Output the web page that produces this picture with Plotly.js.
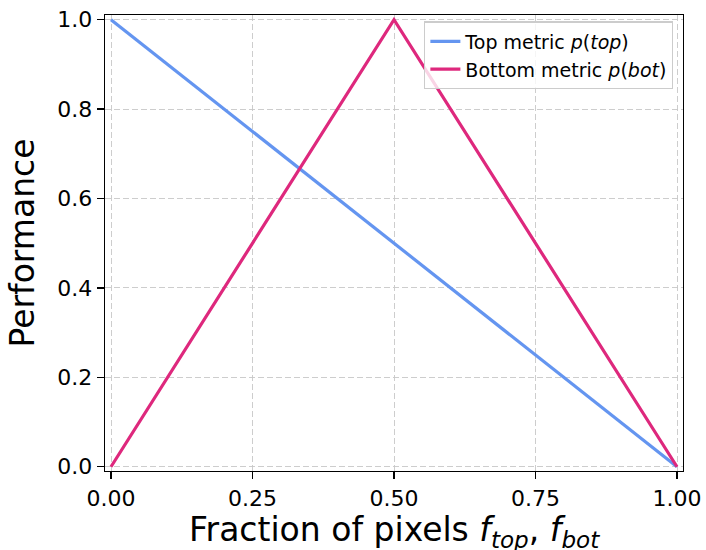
<!DOCTYPE html>
<html><head><meta charset="utf-8">
<script src="https://cdn.plot.ly/plotly-3.0.1.min.js"></script>
<style>html,body{margin:0;padding:0;background:#fff}#c{width:706px;height:550px}</style>
</head><body><div id="c"></div>
<script>
const topX = [0, 1];
const topY = [1, 0];
const botX = [0, 0.5, 1];
const botY = [0, 1, 0];
const xTicks = [0, 0.25, 0.5, 0.75, 1.0];
const xTickText = ['0.00', '0.25', '0.50', '0.75', '1.00'];
const yTicks = [0, 0.2, 0.4, 0.6, 0.8, 1.0];
const yTickText = ['0.0', '0.2', '0.4', '0.6', '0.8', '1.0'];
const xTitle = 'Fraction of pixels <i>f</i><sub><i>top</i></sub>, <i>f</i><sub><i>bot</i></sub>';
const yTitle = 'Performance';
const FONT = 'DejaVu Sans, sans-serif';

const traces = [
  {x: topX, y: topY, mode: 'lines', name: 'Top metric <i>p</i>(<i>top</i>)',
   line: {color: 'rgb(100,149,240)', width: 3.2}},
  {x: botX, y: botY, mode: 'lines', name: 'Bottom metric <i>p</i>(<i>bot</i>)',
   line: {color: 'rgb(222,40,125)', width: 3.2}}
];
const axisCommon = {
  showline: true, mirror: true, linecolor: '#000', linewidth: 1.3,
  ticks: 'outside', ticklen: 7, tickwidth: 1.3, tickcolor: '#000',
  showgrid: true, gridcolor: 'rgba(200,200,200,0.9)', griddash: '6px,3px', gridwidth: 1,
  zeroline: false, tickfont: {family: FONT, size: 22, color: '#000'}
};
const layout = {
  width: 706, height: 550,
  margin: {l: 105, r: 23, t: 15, b: 79},
  paper_bgcolor: '#fff', plot_bgcolor: '#fff',
  font: {family: FONT, color: '#000'},
  showlegend: true,
  legend: {x: 0.983, y: 0.986, xanchor: 'right', yanchor: 'top',
    bgcolor: 'rgba(255,255,255,0.8)', bordercolor: '#ccc', borderwidth: 1.2,
    font: {family: FONT, size: 19, color: '#000'}, tracegroupgap: 0},
  xaxis: Object.assign({}, axisCommon, {
    range: [-0.0106, 1.0106], tickvals: xTicks, ticktext: xTickText
  }),
  yaxis: Object.assign({}, axisCommon, {
    range: [-0.0095, 1.0105], tickvals: yTicks, ticktext: yTickText,
    title: {text: yTitle, font: {family: FONT, size: 33, color: '#000'}, standoff: 12}
  }),
  annotations: [{
    text: xTitle, xref: 'paper', yref: 'paper', x: 0.5, y: 0,
    xanchor: 'center', yanchor: 'top', yshift: -37, showarrow: false,
    font: {family: FONT, size: 33, color: '#000'}
  }]
};
Plotly.newPlot('c', traces, layout, {displayModeBar: false, staticPlot: true});
</script></body></html>
